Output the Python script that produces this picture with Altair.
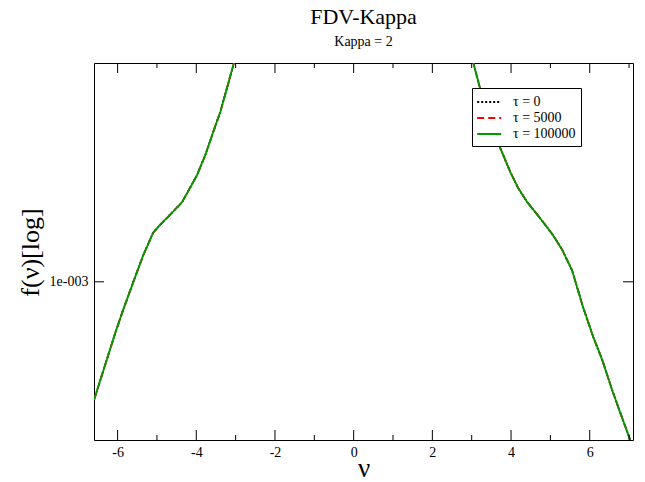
import altair as alt
import pandas as pd

# ---- data ----
nu_vals = [-6.60, -6.06, -5.86, -5.61, -5.35, -5.10, -4.92, -4.67, -4.36, -4.16,
           -3.98, -3.77, -3.57, -3.39, -3.22, -3.04, -2.96,
           2.96, 3.04, 3.21, 3.45, 3.67, 3.80, 3.98, 4.18, 4.41, 4.74, 5.07,
           5.30, 5.55, 5.83, 6.09, 6.32, 6.57, 6.78, 7.03]
f_vals = [2.89e-4, 5.84e-4, 7.44e-4, 9.88e-4, 1.32e-3, 1.67e-3, 1.82e-3, 2.02e-3, 2.31e-3, 2.68e-3,
          3.07e-3, 3.79e-3, 4.82e-3, 5.95e-3, 7.65e-3, 1.00e-2, 1.08e-2,
          1.08e-2, 1.00e-2, 7.65e-3, 5.6e-3, 4.30e-3, 3.79e-3, 3.17e-3, 2.68e-3, 2.31e-3, 1.95e-3, 1.63e-3,
          1.40e-3, 1.13e-3, 7.67e-4, 5.60e-4, 4.40e-4, 3.21e-4, 2.52e-4, 1.90e-4]

series_names = ["τ = 0", "τ = 5000", "τ = 100000"]
series_colors = ["black", "red", "#009a00"]
series_dashes = [[2, 2], [7, 4], [1, 0]]

x_major = [-6, -4, -2, 0, 2, 4, 6]
x_minor = [-5, -3, -1, 1, 3, 5, 7]
y_major = [0.001]

x_domain = [-6.6, 7.1]
y_domain = [1.9e-4, 9.95e-3]

W, H = 539, 377
FONT = "Liberation Serif"

rows = []
for i, name in enumerate(series_names):
    for n, f in zip(nu_vals, f_vals):
        rows.append({"nu": n, "f": f, "series": name})
df = pd.DataFrame(rows)

xscale = alt.Scale(domain=x_domain, nice=False, zero=False)
yscale = alt.Scale(type="log", domain=y_domain, nice=False)

xaxis = alt.Axis(values=x_major, labelExpr="datum.value < 0 ? '-' + abs(datum.value) : '' + datum.value",
                 ticks=False, domain=False, grid=False,
                 labelFont=FONT, labelFontSize=14, labelColor="black", labelPadding=5,
                 title="ν", titleFont=FONT, titleFontSize=27, titleFontWeight="normal",
                 titleColor="black", titleY=36, titleBaseline="alphabetic")
yaxis = alt.Axis(values=y_major, labelExpr="'1e-003'", ticks=False, domain=False, grid=False,
                 labelFont=FONT, labelFontSize=14, labelColor="black", labelPadding=6,
                 title="f(ν)[log]", titleFont=FONT, titleFontSize=26, titleFontWeight="normal",
                 titleColor="black", titleX=-64, titleY=189, titleAngle=270,
                 titleAlign="center", titleBaseline="middle")

leg = alt.Legend(title=None, orient="none", legendX=378, legendY=25,
                 fillColor="white", strokeColor="black", padding=5,
                 symbolType="M-1.1,0H1.9", symbolSize=256, symbolStrokeWidth=2,
                 labelFont=FONT, labelFontSize=14, labelColor="black",
                 labelOffset=18, rowPadding=0)

lines = alt.Chart(df).mark_line(clip=True, strokeWidth=1.8).encode(
    x=alt.X("nu:Q", scale=xscale, axis=xaxis),
    y=alt.Y("f:Q", scale=yscale, axis=yaxis),
    color=alt.Color("series:N", scale=alt.Scale(domain=series_names, range=series_colors), legend=leg),
    strokeDash=alt.StrokeDash("series:N", scale=alt.Scale(domain=series_names, range=series_dashes),
                              legend=leg),
)

xmaj_df = pd.DataFrame({"nu": x_major})
xmin_df = pd.DataFrame({"nu": x_minor})
ymaj_df = pd.DataFrame({"f": y_major})

def xticks(d, length, bottom):
    enc = dict(x=alt.X("nu:Q", scale=xscale, axis=xaxis))
    if bottom:
        enc.update(y=alt.value(H), y2=alt.value(H - length))
    else:
        enc.update(y=alt.value(0), y2=alt.value(length))
    return alt.Chart(d).mark_rule(color="black", strokeWidth=1).encode(**enc)

def yticks(d, length, left):
    enc = dict(y=alt.Y("f:Q", scale=yscale, axis=yaxis))
    if left:
        enc.update(x=alt.value(0), x2=alt.value(length))
    else:
        enc.update(x=alt.value(W), x2=alt.value(W - length))
    return alt.Chart(d).mark_rule(color="black", strokeWidth=1).encode(**enc)

chart = alt.layer(
    lines,
    xticks(xmaj_df, 10, True), xticks(xmaj_df, 10, False),
    xticks(xmin_df, 5, True), xticks(xmin_df, 5, False),
    yticks(ymaj_df, 10, True), yticks(ymaj_df, 10, False),
).properties(
    width=W, height=H,
    title=alt.TitleParams("FDV-Kappa", subtitle="Kappa = 2", font=FONT, fontSize=22,
                          fontWeight="normal", color="black", subtitleFont=FONT,
                          subtitleFontSize=14, subtitleColor="black", anchor="middle",
                          offset=13, subtitlePadding=6),
    autosize=alt.AutoSizeParams(type="none"),
    padding={"left": 94, "top": 63, "right": 12, "bottom": 42},
    background="white",
).configure_view(stroke="black", strokeWidth=1)

chart.save("out.html", embed_options={"renderer": "svg", "actions": False})
